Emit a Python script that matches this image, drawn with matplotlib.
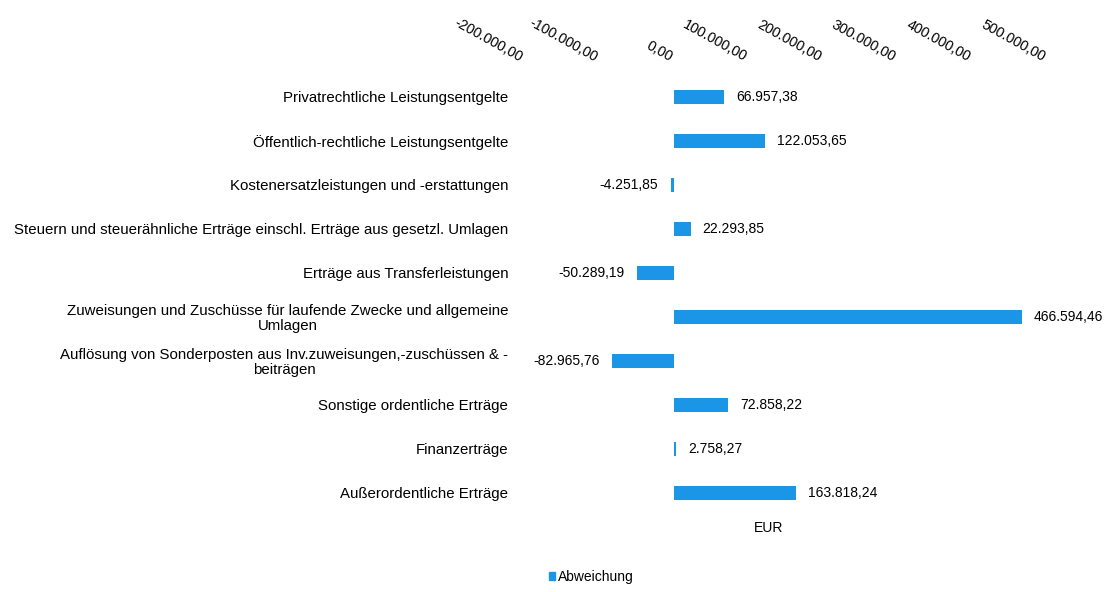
import numpy as np
import matplotlib.pyplot as plt
from matplotlib.patches import Patch
from matplotlib.transforms import ScaledTranslation

plt.rcParams['font.family'] = ['Liberation Sans', 'DejaVu Sans']

categories = [
    'Privatrechtliche Leistungsentgelte',
    'Öffentlich-rechtliche Leistungsentgelte',
    'Kostenersatzleistungen und -erstattungen',
    'Steuern und steuerähnliche Erträge einschl. Erträge aus gesetzl. Umlagen',
    'Erträge aus Transferleistungen',
    'Zuweisungen und Zuschüsse für laufende Zwecke und allgemeine\nUmlagen',
    'Auflösung von Sonderposten aus Inv.zuweisungen,-zuschüssen & -\nbeiträgen',
    'Sonstige ordentliche Erträge',
    'Finanzerträge',
    'Außerordentliche Erträge',
]
abweichung = [66957.38, 122053.65, -4251.85, 22293.85, -50289.19,
              466594.46, -82965.76, 72858.22, 2758.27, 163818.24]
xticks = [-200000, -100000, 0, 100000, 200000, 300000, 400000, 500000]


def de(v):
    s = f'{v:,.2f}'
    return s.replace(',', 'X').replace('.', ',').replace('X', '.')


blue = '#1b95e6'
fs = 10.8
fig = plt.figure(figsize=(11.15, 5.92), dpi=100)
ax = fig.add_axes([525 / 1115, 77 / 592, 522 / 1115, 440 / 592])

y = np.arange(len(categories))
bars = ax.barh(y, abweichung, height=0.3, color=blue, label='Abweichung')
ax.set_ylim(len(categories) - 0.5, -0.5)
ax.set_xlim(-200000, 500000)

ax.set_yticks(y)
ax.set_yticklabels(categories, fontsize=fs, multialignment='center', linespacing=1.05)
ax.tick_params(axis='y', length=0, pad=12)

ax.xaxis.tick_top()
ax.set_xticks(xticks)
ax.set_xticklabels([de(t) for t in xticks], fontsize=10.3, rotation=-29,
                   ha='right', va='center', rotation_mode='anchor')
ax.tick_params(axis='x', length=0, pad=12)
shift = ScaledTranslation(-3 / 100, 0, fig.dpi_scale_trans)
for lab in ax.get_xticklabels():
    lab.set_transform(lab.get_transform() + shift)

for s in ax.spines.values():
    s.set_visible(False)

for b, v in zip(bars, abweichung):
    if v >= 0:
        ax.annotate(de(v), (v, b.get_y() + b.get_height() / 2), xytext=(8.5, 0),
                    textcoords='offset points', ha='left', va='center', fontsize=10)
    else:
        ax.annotate(de(v), (v, b.get_y() + b.get_height() / 2), xytext=(-9, 0),
                    textcoords='offset points', ha='right', va='center', fontsize=10)

ax.text(0.466, -0.03, 'EUR', transform=ax.transAxes, ha='center', va='center', fontsize=10)

fig.legend(handles=[Patch(color=blue, label='Abweichung')], loc='center',
           bbox_to_anchor=(591 / 1115, 1 - 577 / 592), frameon=False, fontsize=10,
           handlelength=0.45, handleheight=0.45, handletextpad=0.2)

fig.savefig('out.png', dpi=100)
